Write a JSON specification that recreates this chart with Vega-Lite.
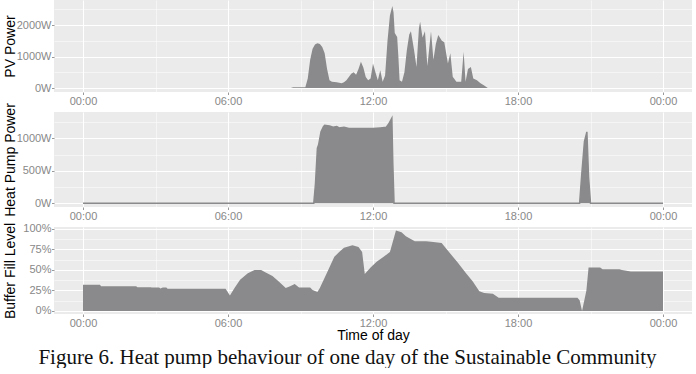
{
  "$schema": "https://vega.github.io/schema/vega-lite/v6.json",
  "padding": {"left": 2, "top": 0, "right": 4, "bottom": 0},
  "background": "white",
  "bounds": "flush",
  "spacing": 20,
  "title": {
    "text": "Figure 6. Heat pump behaviour of one day of the Sustainable Community",
    "orient": "bottom",
    "anchor": "middle",
    "font": "Liberation Serif",
    "fontSize": 21,
    "fontWeight": "normal",
    "color": "#111111",
    "offset": 4
  },
  "config": {
    "view": {"fill": "#EBEBEB", "stroke": null},
    "axis": {
      "domain": false,
      "grid": true,
      "gridColor": "#FFFFFF",
      "tickColor": "#999999",
      "tickSize": 2.5,
      "labelColor": "#888888",
      "labelFont": "Liberation Sans",
      "labelFontSize": 11,
      "labelPadding": 0.5,
      "labelFlush": false,
      "labelOverlap": false,
      "titleFont": "Liberation Sans",
      "titleFontSize": 14,
      "titleFontWeight": "normal",
      "titleColor": "#000000"
    }
  },
  "datasets": {
    "pv": [
      {"h": 8.6, "w": 0}, {"h": 8.7, "w": 20}, {"h": 9.2, "w": 20}, {"h": 9.3, "w": 300},
      {"h": 9.4, "w": 900}, {"h": 9.5, "w": 1250}, {"h": 9.6, "w": 1380}, {"h": 9.7, "w": 1420},
      {"h": 9.8, "w": 1400}, {"h": 9.9, "w": 1300}, {"h": 10.0, "w": 1100}, {"h": 10.1, "w": 600},
      {"h": 10.2, "w": 250}, {"h": 10.3, "w": 200}, {"h": 10.5, "w": 180}, {"h": 10.7, "w": 150},
      {"h": 10.8, "w": 180}, {"h": 10.9, "w": 250}, {"h": 11.0, "w": 350}, {"h": 11.1, "w": 450},
      {"h": 11.2, "w": 500}, {"h": 11.3, "w": 420}, {"h": 11.4, "w": 600}, {"h": 11.5, "w": 830},
      {"h": 11.6, "w": 650}, {"h": 11.7, "w": 350}, {"h": 11.8, "w": 250}, {"h": 11.9, "w": 300},
      {"h": 12.0, "w": 780}, {"h": 12.1, "w": 500}, {"h": 12.2, "w": 250}, {"h": 12.3, "w": 560},
      {"h": 12.4, "w": 200}, {"h": 12.5, "w": 400}, {"h": 12.6, "w": 1500}, {"h": 12.7, "w": 2300},
      {"h": 12.8, "w": 2600}, {"h": 12.85, "w": 2400}, {"h": 12.9, "w": 1750}, {"h": 13.0, "w": 1620},
      {"h": 13.05, "w": 1000}, {"h": 13.1, "w": 250}, {"h": 13.2, "w": 200}, {"h": 13.3, "w": 500},
      {"h": 13.4, "w": 1200}, {"h": 13.5, "w": 1700}, {"h": 13.57, "w": 1800}, {"h": 13.7, "w": 1200},
      {"h": 13.8, "w": 670}, {"h": 13.9, "w": 1900}, {"h": 13.95, "w": 2100}, {"h": 14.05, "w": 1600},
      {"h": 14.15, "w": 1800}, {"h": 14.25, "w": 700}, {"h": 14.4, "w": 1800}, {"h": 14.5, "w": 900},
      {"h": 14.6, "w": 1400}, {"h": 14.7, "w": 1680}, {"h": 14.85, "w": 1500}, {"h": 14.95, "w": 1450},
      {"h": 15.1, "w": 780}, {"h": 15.2, "w": 1100}, {"h": 15.3, "w": 360}, {"h": 15.45, "w": 200},
      {"h": 15.65, "w": 200}, {"h": 15.75, "w": 1150}, {"h": 15.83, "w": 200}, {"h": 15.93, "w": 600},
      {"h": 16.05, "w": 670}, {"h": 16.15, "w": 300}, {"h": 16.3, "w": 250}, {"h": 16.45, "w": 150},
      {"h": 16.6, "w": 80}, {"h": 16.75, "w": 0}
    ],
    "hp": [
      {"h": 0, "w": 0}, {"h": 9.55, "w": 0}, {"h": 9.62, "w": 300}, {"h": 9.7, "w": 850},
      {"h": 9.75, "w": 900}, {"h": 9.85, "w": 1100}, {"h": 9.95, "w": 1180}, {"h": 10.0, "w": 1200},
      {"h": 10.2, "w": 1190}, {"h": 10.35, "w": 1170}, {"h": 10.5, "w": 1180}, {"h": 10.6, "w": 1160},
      {"h": 10.8, "w": 1170}, {"h": 11.0, "w": 1150}, {"h": 11.5, "w": 1150}, {"h": 12.0, "w": 1150},
      {"h": 12.3, "w": 1160}, {"h": 12.55, "w": 1170}, {"h": 12.65, "w": 1220}, {"h": 12.78, "w": 1310},
      {"h": 12.82, "w": 600}, {"h": 12.87, "w": 0}, {"h": 20.55, "w": 0}, {"h": 20.65, "w": 500},
      {"h": 20.75, "w": 950}, {"h": 20.85, "w": 1100}, {"h": 20.92, "w": 400}, {"h": 21.0, "w": 0},
      {"h": 24, "w": 0}
    ],
    "buf": [
      {"h": 0, "p": 32}, {"h": 0.7, "p": 32}, {"h": 0.75, "p": 30}, {"h": 2.2, "p": 30},
      {"h": 2.25, "p": 29}, {"h": 2.8, "p": 29}, {"h": 2.85, "p": 28.5}, {"h": 3.15, "p": 28.5},
      {"h": 3.2, "p": 27.5}, {"h": 3.3, "p": 28.5}, {"h": 3.45, "p": 28.5}, {"h": 3.5, "p": 27},
      {"h": 5.9, "p": 27}, {"h": 6.08, "p": 19}, {"h": 6.27, "p": 28}, {"h": 6.5, "p": 38},
      {"h": 6.82, "p": 46}, {"h": 7.1, "p": 50}, {"h": 7.37, "p": 50}, {"h": 7.56, "p": 47},
      {"h": 7.84, "p": 42.5}, {"h": 8.1, "p": 36}, {"h": 8.39, "p": 28}, {"h": 8.57, "p": 30},
      {"h": 8.76, "p": 33}, {"h": 8.94, "p": 28.5}, {"h": 9.4, "p": 28.5}, {"h": 9.5, "p": 25.5},
      {"h": 9.7, "p": 23}, {"h": 9.8, "p": 28}, {"h": 10.1, "p": 47}, {"h": 10.4, "p": 66},
      {"h": 10.6, "p": 72}, {"h": 10.8, "p": 77}, {"h": 11.15, "p": 80}, {"h": 11.4, "p": 78},
      {"h": 11.55, "p": 72}, {"h": 11.66, "p": 45}, {"h": 11.9, "p": 53}, {"h": 12.15, "p": 60},
      {"h": 12.44, "p": 66}, {"h": 12.7, "p": 72}, {"h": 12.95, "p": 98}, {"h": 13.18, "p": 96},
      {"h": 13.36, "p": 91}, {"h": 13.73, "p": 85}, {"h": 14.2, "p": 85}, {"h": 14.5, "p": 84},
      {"h": 14.84, "p": 83}, {"h": 15.0, "p": 77}, {"h": 15.48, "p": 60}, {"h": 15.85, "p": 46},
      {"h": 16.13, "p": 36}, {"h": 16.4, "p": 24}, {"h": 16.6, "p": 22}, {"h": 16.96, "p": 21},
      {"h": 17.2, "p": 16}, {"h": 20.46, "p": 16}, {"h": 20.55, "p": 13}, {"h": 20.65, "p": 0},
      {"h": 20.83, "p": 25}, {"h": 20.92, "p": 53}, {"h": 21.4, "p": 53}, {"h": 21.5, "p": 51},
      {"h": 22.2, "p": 51}, {"h": 22.3, "p": 50}, {"h": 22.67, "p": 48}, {"h": 24, "p": 48}
    ]
  },
  "vconcat": [
    {
      "data": {"name": "pv"},
      "width": 638,
      "height": 92,
      "mark": {"type": "area", "color": "#8A8A8C"},
      "encoding": {
        "x": {
          "field": "h", "type": "quantitative",
          "scale": {"domain": [-1.2, 25.2], "nice": false, "zero": false},
          "axis": {
            "title": null,
            "values": [0, 3, 6, 9, 12, 15, 18, 21, 24],
            "labelExpr": "datum.value % 6 !== 0 ? '' : (datum.value === 6 ? '06:00' : datum.value === 12 ? '12:00' : datum.value === 18 ? '18:00' : '00:00')",
            "gridWidth": {"condition": {"test": "datum.value % 6 !== 0", "value": 0.5}, "value": 1.1},
            "tickOpacity": {"condition": {"test": "datum.value % 6 !== 0", "value": 0}, "value": 1}
          }
        },
        "y": {
          "field": "w", "type": "quantitative",
          "scale": {"domain": [-127, 2794], "nice": false, "zero": false},
          "axis": {
            "title": "PV Power",
            "titleX": -37,
            "values": [0, 500, 1000, 1500, 2000, 2500],
            "labelExpr": "datum.value % 1000 !== 0 ? '' : datum.value + 'W'",
            "gridWidth": {"condition": {"test": "datum.value % 1000 !== 0", "value": 0.5}, "value": 1.1},
            "tickOpacity": {"condition": {"test": "datum.value % 1000 !== 0", "value": 0}, "value": 1}
          }
        },
        "y2": {"datum": 0}
      }
    },
    {
      "data": {"name": "hp"},
      "width": 638,
      "height": 95,
      "mark": {"type": "area", "color": "#8A8A8C", "opacity": 1, "fillOpacity": 1, "line": {"color": "#8A8A8C", "strokeWidth": 1.5}},
      "encoding": {
        "x": {
          "field": "h", "type": "quantitative",
          "scale": {"domain": [-1.2, 25.2], "nice": false, "zero": false},
          "axis": {
            "title": null,
            "values": [0, 3, 6, 9, 12, 15, 18, 21, 24],
            "labelExpr": "datum.value % 6 !== 0 ? '' : (datum.value === 6 ? '06:00' : datum.value === 12 ? '12:00' : datum.value === 18 ? '18:00' : '00:00')",
            "gridWidth": {"condition": {"test": "datum.value % 6 !== 0", "value": 0.5}, "value": 1.1},
            "tickOpacity": {"condition": {"test": "datum.value % 6 !== 0", "value": 0}, "value": 1}
          }
        },
        "y": {
          "field": "w", "type": "quantitative",
          "scale": {"domain": [-57, 1405], "nice": false, "zero": false},
          "axis": {
            "title": "Heat Pump Power",
            "titleX": -37,
            "values": [0, 250, 500, 750, 1000, 1250],
            "labelExpr": "datum.value % 500 !== 0 ? '' : datum.value + 'W'",
            "gridWidth": {"condition": {"test": "datum.value % 500 !== 0", "value": 0.5}, "value": 1.1},
            "tickOpacity": {"condition": {"test": "datum.value % 500 !== 0", "value": 0}, "value": 1}
          }
        },
        "y2": {"datum": 0}
      }
    },
    {
      "data": {"name": "buf"},
      "width": 638,
      "height": 87,
      "mark": {"type": "area", "color": "#8A8A8C"},
      "encoding": {
        "x": {
          "field": "h", "type": "quantitative",
          "scale": {"domain": [-1.2, 25.2], "nice": false, "zero": false},
          "axis": {
            "title": "Time of day",
            "titlePadding": 0.5,
            "values": [0, 3, 6, 9, 12, 15, 18, 21, 24],
            "labelExpr": "datum.value % 6 !== 0 ? '' : (datum.value === 6 ? '06:00' : datum.value === 12 ? '12:00' : datum.value === 18 ? '18:00' : '00:00')",
            "gridWidth": {"condition": {"test": "datum.value % 6 !== 0", "value": 0.5}, "value": 1.1},
            "tickOpacity": {"condition": {"test": "datum.value % 6 !== 0", "value": 0}, "value": 1}
          }
        },
        "y": {
          "field": "p", "type": "quantitative",
          "scale": {"domain": [-3.7, 102.4], "nice": false, "zero": false},
          "axis": {
            "title": "Buffer Fill Level",
            "titleX": -37,
            "values": [0, 12.5, 25, 37.5, 50, 62.5, 75, 87.5, 100],
            "labelExpr": "datum.value % 25 !== 0 ? '' : datum.value + '%'",
            "gridWidth": {"condition": {"test": "datum.value % 25 !== 0", "value": 0.5}, "value": 1.1},
            "tickOpacity": {"condition": {"test": "datum.value % 25 !== 0", "value": 0}, "value": 1}
          }
        },
        "y2": {"datum": 0}
      }
    }
  ]
}
